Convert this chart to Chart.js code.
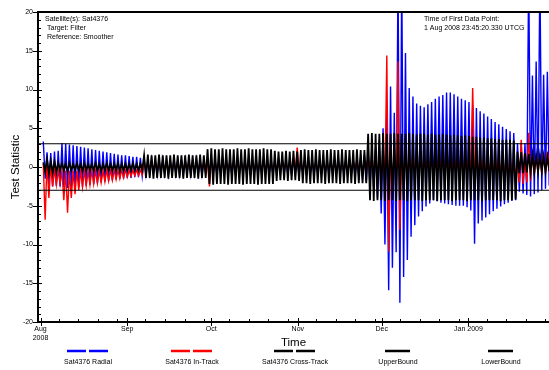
<!DOCTYPE html>
<html>
<head>
<meta charset="utf-8">
<script src="https://cdn.jsdelivr.net/npm/chart.js@4.4.1/dist/chart.umd.min.js"></script>
<style>
html, body { margin: 0; padding: 0; background: #fff; overflow: hidden; }
</style>
</head>
<body>
<canvas id="chart" width="549" height="370"></canvas>
<script>
// x values are days since 1 Aug 2008 00:00 UTCG
const firstPointDay = 0.99;   // 1 Aug 2008 23:45:20.330
const cycleDays = 1.335;      // one up/down swing of the test statistic
const xMin = -0.9;
const xMax = 181.8;

const monthDays = [0, 31, 61, 92, 122, 153];
const monthLabels = [['Aug', '2008'], 'Sep', 'Oct', 'Nov', 'Dec', 'Jan 2009'];

const upperBound = 3;
const lowerBound = -3;

// peak (hi) and trough (lo) of each swing
const radialHi = [
  3.3,1.9,1.8,2.0,2.1,3.1,3.0,2.9,2.8,2.7,2.6,2.5,2.4,2.3,2.2,2.1,2.0,1.9,1.8,1.7,1.6,1.5,1.5,1.4,1.3,1.3,1.2,
  1.0,0.9,1.0,0.8,0.9,1.0,0.9,0.8,1.0,0.9, 0.9,1.0,0.8,0.9,1.0,0.9,0.8,0.9,1.0,0.9,
  0.9,0.8,1.0,0.9,0.9,1.0,0.8,0.9,0.9,1.0, 0.9,0.8,0.9,1.0,0.9,0.9,0.8,1.0,0.9,0.9,
  1.0,0.8,0.9,0.9,1.0,0.9,0.8,0.9,1.0,0.9, 0.9,0.8,1.0,0.9,0.9,1.0,0.9,1.1,1.3,1.6,
  2.0,2.2,2.5,3.5,5.0,8.0,10.4,7.0,25,25, 14.7,10.2,9.1,8.2,7.9,7.7,8.1,8.4,8.8,9.1,
  9.3,9.6,9.6,9.4,9.1,8.8,8.6,8.4,8.0,7.6, 7.2,6.9,6.5,6.2,5.8,5.5,5.2,4.9,4.6,4.4,
  3.1,3.0,3.1,25,11.8,13.6,25,11.9,12.3,10.0
];
const radialLo = [
  -1.5,-2.2,-2.5,-2.4,-2.5,-2.6,-2.7,-2.7,-2.7,-2.6,-2.5,-2.4,-2.3,-2.2,-2.1,-2.0,-1.9,-1.8,-1.7,-1.6,-1.5,-1.5,-1.4,-1.4,-1.3,-1.3,-1.2,
  -1.0,-0.9,-0.8,-1.0,-0.9,-0.9,-1.0,-0.8,-0.9,-1.0, -0.9,-0.8,-1.0,-0.9,-0.9,-1.0,-0.8,-0.9,-0.9,-1.0,
  -0.9,-0.8,-0.9,-1.0,-0.9,-0.9,-0.8,-1.0,-0.9,-0.9, -1.0,-0.8,-0.9,-0.9,-1.0,-0.9,-0.8,-0.9,-1.0,-0.9,
  -0.9,-1.0,-0.8,-0.9,-0.9,-1.0,-0.9,-0.8,-0.9,-1.0, -0.9,-0.8,-1.0,-0.9,-0.9,-1.0,-1.1,-1.3,-1.6,-2.0,
  -2.5,-3.0,-4.0,-6.0,-10.0,-15.9,-13.0,-11.0,-17.5,-14.2, -12.0,-9.0,-7.5,-6.4,-5.7,-5.1,-4.7,-4.3,-4.4,-4.6,
  -4.7,-4.8,-4.9,-5.0,-5.0,-5.0,-5.2,-5.6,-9.9,-7.3, -6.9,-6.5,-6.1,-5.7,-5.4,-5.1,-4.8,-4.6,-4.4,-4.3,
  -3.2,-3.4,-3.6,-3.8,-3.5,-3.3,-3.0,-2.8,-2.4,-2.0
];
const inTrackHi = [
  0.4,0.8,0.2,-0.3,-0.4,-0.5,-0.5,-0.5,-0.5,-0.5,-0.5,-0.5,-0.5,-0.5,-0.5,-0.5,-0.5,-0.4,-0.4,-0.4,-0.4,-0.4,-0.4,-0.4,-0.4,-0.4,-0.4,
  0.6,0.5,0.7,0.6,0.5,0.6,0.7,0.5,0.6,0.6, 0.5,0.7,0.6,0.6,0.5,0.7,0.6,0.5,0.6,0.7,
  0.6,0.5,0.6,0.7,0.6,0.5,0.6,0.6,0.7,0.5, 0.6,0.6,0.7,0.5,0.6,0.6,0.5,0.7,0.6,0.6,
  0.5,2.5,0.6,0.7,0.6,0.5,0.6,0.7,0.6,0.5, 0.6,0.7,0.6,0.5,0.6,0.7,0.8,0.9,1.0,1.2,
  1.4,1.6,1.5,1.8,2.2,14.4,2.0,1.7,13.6,1.8, 1.6,1.5,1.7,1.4,1.6,1.5,1.4,1.6,1.5,1.7,
  1.5,1.4,1.6,1.5,1.4,1.6,1.5,1.4,10.2,1.6, 1.5,1.4,1.5,1.3,1.4,1.5,1.3,1.4,1.2,1.3,
  0.5,3.5,1.0,4.4,1.5,1.6,1.7,1.8,1.9,2.0
];
const inTrackLo = [
  -6.8,-4.0,-2.5,-2.3,-2.2,-4.3,-5.9,-4.0,-3.5,-3.0,-2.6,-2.4,-2.3,-2.2,-2.1,-2.0,-1.9,-1.8,-1.7,-1.6,-1.5,-1.4,-1.3,-1.2,-1.1,-1.1,-1.0,
  -0.4,-0.3,-0.4,-0.5,-0.4,-0.3,-0.4,-0.4,-0.5,-0.3, -0.4,-0.4,-0.3,-0.5,-0.4,-0.4,-0.3,-2.5,-0.4,-0.4,
  -0.5,-0.3,-0.4,-0.4,-0.3,-0.5,-0.4,-0.4,-0.3,-0.4, -0.5,-0.4,-0.3,-0.4,-0.4,-0.5,-0.3,-0.4,-0.4,-0.3,
  -0.4,-0.5,-0.4,-0.3,-0.4,-0.4,-0.5,-0.3,-0.4,-0.4, -0.3,-0.4,-0.5,-0.4,-0.4,-0.3,-0.5,-0.6,-0.7,-0.8,
  -0.9,-1.0,-1.2,-1.5,-2.0,-10.9,-1.5,-1.2,-8.1,-1.3, -1.0,-0.9,-1.1,-0.8,-1.0,-0.9,-0.8,-1.0,-0.9,-1.1,
  -0.9,-0.8,-1.0,-0.9,-0.8,-1.0,-0.9,-0.8,-1.0,-0.9, -0.8,-1.0,-0.9,-0.8,-1.0,-0.9,-1.2,-1.4,-1.6,-1.8,
  -2.0,-2.2,-2.0,-1.8,-0.9,-0.8,-0.8,-0.7,-0.6,-0.5
];
const crossTrackHi = [
  0.6,1.0,0.8,0.7,
  0.5,0.5,0.4,0.5,0.4,0.5,0.4,0.5,0.4,0.4,0.5,0.4,0.4,0.5,0.4,0.4,0.5,0.4,0.4,0.4,0.5,0.4,0.4,
  1.5,1.6,1.5,1.5,1.6,1.5,1.5,1.5,1.6,1.5,1.5,1.5,1.6,1.5,1.5,1.6,1.5,
  2.3,2.4,2.3,2.3,2.4,2.3,2.3,2.3,2.4,2.3,2.3,2.4,2.3,2.3,2.3,2.4,2.3,2.3,
  2.1,2.0,2.0,2.1,2.0,2.1,2.0,
  2.2,2.3,2.2,2.2,2.3,2.2,2.2,2.2,2.3,2.2,2.2,2.3,2.2,2.2,2.2,2.3,2.2,2.2,
  4.3,4.4,4.3,4.3,4.4,4.3,4.3,4.4,4.3,4.3, 4.3,4.4,4.3,4.2,4.3,4.3,4.2,4.3,4.2,4.2,
  4.3,4.2,4.1,4.2,4.1,4.0,4.1,4.0,3.9,3.9, 3.8,3.8,3.7,3.7,3.6,3.6,3.5,3.5,3.5,3.4,
  2.0,1.9,1.8,1.7,1.6,1.5,1.5,1.4,1.3,1.3
];
const crossTrackLo = [
  -0.6,-0.8,-0.7,-0.6,
  -0.4,-0.4,-0.5,-0.4,-0.4,-0.4,-0.5,-0.4,-0.4,-0.4,-0.4,-0.5,-0.4,-0.4,-0.4,-0.4,-0.5,-0.4,-0.4,-0.4,-0.4,-0.4,-0.4,
  -1.4,-1.4,-1.5,-1.4,-1.4,-1.4,-1.5,-1.4,-1.4,-1.4,-1.5,-1.4,-1.4,-1.4,-1.5,-1.4,-1.4,
  -2.2,-2.3,-2.2,-2.2,-2.2,-2.3,-2.2,-2.2,-2.2,-2.3,-2.2,-2.2,-2.2,-2.3,-2.2,-2.2,-2.2,-2.2,
  -1.8,-1.7,-1.7,-1.8,-1.7,-1.7,-1.8,
  -2.1,-2.1,-2.2,-2.1,-2.1,-2.1,-2.2,-2.1,-2.1,-2.1,-2.2,-2.1,-2.1,-2.1,-2.2,-2.1,-2.1,-2.1,
  -4.3,-4.4,-4.3,-4.3,-4.4,-4.3,-4.3,-4.4,-4.3,-4.3, -4.4,-4.3,-4.3,-4.3,-4.4,-4.3,-4.3,-4.3,-4.4,-4.3,
  -4.3,-4.3,-4.4,-4.3,-4.3,-4.3,-4.4,-4.3,-4.3,-4.3, -4.4,-4.3,-4.3,-4.3,-4.3,-4.4,-4.3,-4.3,-4.3,-4.2,
  -0.8,-0.8,-0.7,-0.7,-0.7,-0.6,-0.6,-0.6,-0.5,-0.5
];

const FONT = 'Liberation Sans, Arial, sans-serif';

// turn the hi/lo lists into one zigzag line
function swings(hi, lo) {
  const pts = [];
  hi.forEach((h, k) => {
    const t = firstPointDay + k * cycleDays;
    pts.push({ x: t, y: h });
    pts.push({ x: t + cycleDays / 2, y: lo[k] });
  });
  return pts;
}

function makeLine(label, data, color, order, width) {
  return {
    label: label,
    data: data,
    borderColor: color,
    backgroundColor: color,
    borderWidth: width,
    pointRadius: 0,
    tension: 0,
    fill: false,
    order: order
  };
}

const legendItems = [
  { text: 'Sat4376 Radial', color: '#0000ff', double: true, cx: 88 },
  { text: 'Sat4376 In-Track', color: '#ff0000', double: true, cx: 192 },
  { text: 'Sat4376 Cross-Track', color: '#000000', double: true, cx: 295 },
  { text: 'UpperBound', color: '#000000', double: false, cx: 398 },
  { text: 'LowerBound', color: '#000000', double: false, cx: 501 }
];

// ticks, frame, notes and legend
const decorPlugin = {
  id: 'decor',
  afterDraw(chart) {
    const ctx = chart.ctx;
    const a = chart.chartArea;
    const xs = chart.scales.x, ys = chart.scales.y;
    ctx.save();
    ctx.strokeStyle = '#000';
    ctx.lineWidth = 2;
    ctx.beginPath();
    ctx.moveTo(a.left - 1, a.top);
    ctx.lineTo(a.right, a.top);
    ctx.stroke();

    ctx.lineWidth = 1;
    ctx.beginPath();
    for (let v = -20; v <= 20; v++) {
      const y = Math.round(ys.getPixelForValue(v)) + 0.5;
      if (v % 5 === 0) { ctx.moveTo(a.left - 5, y); ctx.lineTo(a.left + 4, y); }
      else { ctx.moveTo(a.left, y); ctx.lineTo(a.left + 3, y); }
    }
    monthDays.forEach(d => {
      const x = Math.round(xs.getPixelForValue(d)) + 0.5;
      ctx.moveTo(x, a.bottom - 4); ctx.lineTo(x, a.bottom + 4);
      [6.5, 13.5, 20.5, 27.5].forEach(w => {
        const xm = Math.round(xs.getPixelForValue(d + w)) + 0.5;
        if (d + w < xMax) { ctx.moveTo(xm, a.bottom); ctx.lineTo(xm, a.bottom - 3); }
      });
    });
    ctx.stroke();

    ctx.fillStyle = '#000';
    ctx.font = '7px ' + FONT;
    ctx.textBaseline = 'middle';
    ctx.textAlign = 'left';
    ctx.fillText('Satellite(s): Sat4376', 45, 19);
    ctx.fillText('Target: Filter', 47, 28);
    ctx.fillText('Reference: Smoother', 47, 37);
    ctx.fillText('Time of First Data Point:', 424, 19);
    ctx.fillText('1 Aug 2008 23:45:20.330 UTCG', 424, 28);

    ctx.textAlign = 'center';
    legendItems.forEach(it => {
      ctx.strokeStyle = it.color;
      ctx.lineWidth = 2.5;
      ctx.beginPath();
      if (it.double) {
        ctx.moveTo(it.cx - 21, 351); ctx.lineTo(it.cx - 2, 351);
        ctx.moveTo(it.cx + 1, 351); ctx.lineTo(it.cx + 20, 351);
      } else {
        ctx.moveTo(it.cx - 13, 351); ctx.lineTo(it.cx + 12, 351);
      }
      ctx.stroke();
      ctx.fillText(it.text, it.cx, 362);
    });
    ctx.restore();
  }
};

new Chart(document.getElementById('chart'), {
  type: 'line',
  data: {
    datasets: [
      makeLine('Sat4376 Cross-Track', swings(crossTrackHi, crossTrackLo), '#000000', 1, 1.8),
      makeLine('Sat4376 In-Track', swings(inTrackHi, inTrackLo), '#ff0000', 2, 1.4),
      makeLine('Sat4376 Radial', swings(radialHi, radialLo), '#0000ff', 3, 1.4),
      makeLine('UpperBound', [{ x: xMin, y: upperBound }, { x: xMax, y: upperBound }], '#000000', 0, 1.2),
      makeLine('LowerBound', [{ x: xMin, y: lowerBound }, { x: xMax, y: lowerBound }], '#000000', 0, 1.2)
    ]
  },
  options: {
    responsive: false,
    animation: false,
    layout: { padding: { top: 12, right: 0, bottom: 0, left: 0 } },
    plugins: { legend: { display: false }, tooltip: { enabled: false } },
    scales: {
      x: {
        type: 'linear',
        min: xMin,
        max: xMax,
        afterBuildTicks: s => { s.ticks = monthDays.map(v => ({ value: v })); },
        afterFit: s => { s.height = 48; },
        ticks: {
          callback: (v, i) => monthLabels[i],
          autoSkip: false,
          maxRotation: 0,
          padding: 3,
          color: '#000',
          font: { size: 7, family: FONT }
        },
        grid: { display: false, drawTicks: false },
        border: { display: true, color: '#000', width: 2 },
        title: {
          display: true,
          text: 'Time',
          color: '#000',
          font: { size: 11.5, family: FONT },
          padding: { top: 0, bottom: 20 }
        }
      },
      y: {
        min: -20,
        max: 20,
        afterFit: s => { s.width = 38; },
        ticks: {
          stepSize: 5,
          padding: 5,
          color: '#000',
          font: { size: 7, family: FONT }
        },
        grid: { display: false, drawTicks: false },
        border: { display: true, color: '#000', width: 2 },
        title: {
          display: true,
          text: 'Test Statistic',
          color: '#000',
          font: { size: 11.5, family: FONT },
          padding: { top: 9, bottom: 0 }
        }
      }
    }
  },
  plugins: [decorPlugin]
});
</script>
</body>
</html>
